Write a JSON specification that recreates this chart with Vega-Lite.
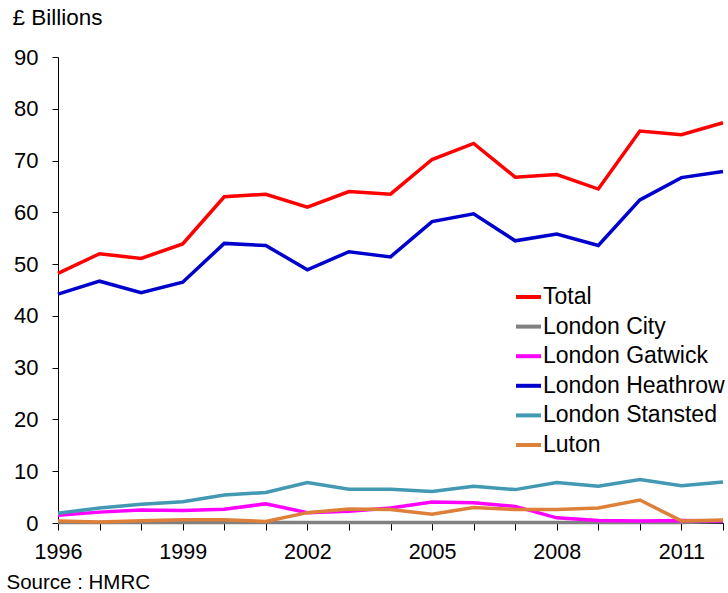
{
  "$schema": "https://vega.github.io/schema/vega-lite/v6.json",
  "width": 665,
  "height": 466,
  "autosize": "none",
  "padding": {"left": 58, "top": 57, "right": 5, "bottom": 70},
  "background": "white",
  "config": {"view": {"stroke": null}, "font": "Liberation Sans"},
  "data": {"values": [
    {"year": 1996, "series": "Total", "value": 48.2},
    {"year": 1997, "series": "Total", "value": 52.0},
    {"year": 1998, "series": "Total", "value": 51.1},
    {"year": 1999, "series": "Total", "value": 53.9},
    {"year": 2000, "series": "Total", "value": 63.0},
    {"year": 2001, "series": "Total", "value": 63.5},
    {"year": 2002, "series": "Total", "value": 61.0},
    {"year": 2003, "series": "Total", "value": 64.0},
    {"year": 2004, "series": "Total", "value": 63.5},
    {"year": 2005, "series": "Total", "value": 70.2},
    {"year": 2006, "series": "Total", "value": 73.3},
    {"year": 2007, "series": "Total", "value": 66.8},
    {"year": 2008, "series": "Total", "value": 67.3},
    {"year": 2009, "series": "Total", "value": 64.5},
    {"year": 2010, "series": "Total", "value": 75.7},
    {"year": 2011, "series": "Total", "value": 75.0},
    {"year": 2012, "series": "Total", "value": 77.3},
    {"year": 1996, "series": "London City", "value": 0.1},
    {"year": 1997, "series": "London City", "value": 0.1},
    {"year": 1998, "series": "London City", "value": 0.1},
    {"year": 1999, "series": "London City", "value": 0.1},
    {"year": 2000, "series": "London City", "value": 0.1},
    {"year": 2001, "series": "London City", "value": 0.1},
    {"year": 2002, "series": "London City", "value": 0.1},
    {"year": 2003, "series": "London City", "value": 0.1},
    {"year": 2004, "series": "London City", "value": 0.1},
    {"year": 2005, "series": "London City", "value": 0.1},
    {"year": 2006, "series": "London City", "value": 0.1},
    {"year": 2007, "series": "London City", "value": 0.1},
    {"year": 2008, "series": "London City", "value": 0.1},
    {"year": 2009, "series": "London City", "value": 0.1},
    {"year": 2010, "series": "London City", "value": 0.1},
    {"year": 2011, "series": "London City", "value": 0.1},
    {"year": 2012, "series": "London City", "value": 0.3},
    {"year": 1996, "series": "London Gatwick", "value": 1.5},
    {"year": 1997, "series": "London Gatwick", "value": 2.1},
    {"year": 1998, "series": "London Gatwick", "value": 2.5},
    {"year": 1999, "series": "London Gatwick", "value": 2.4},
    {"year": 2000, "series": "London Gatwick", "value": 2.65},
    {"year": 2001, "series": "London Gatwick", "value": 3.7},
    {"year": 2002, "series": "London Gatwick", "value": 2.0},
    {"year": 2003, "series": "London Gatwick", "value": 2.25},
    {"year": 2004, "series": "London Gatwick", "value": 2.9},
    {"year": 2005, "series": "London Gatwick", "value": 4.05},
    {"year": 2006, "series": "London Gatwick", "value": 3.9},
    {"year": 2007, "series": "London Gatwick", "value": 3.2},
    {"year": 2008, "series": "London Gatwick", "value": 1.0},
    {"year": 2009, "series": "London Gatwick", "value": 0.5},
    {"year": 2010, "series": "London Gatwick", "value": 0.4},
    {"year": 2011, "series": "London Gatwick", "value": 0.5},
    {"year": 2012, "series": "London Gatwick", "value": 0.4},
    {"year": 1996, "series": "London Heathrow", "value": 44.2},
    {"year": 1997, "series": "London Heathrow", "value": 46.7},
    {"year": 1998, "series": "London Heathrow", "value": 44.5},
    {"year": 1999, "series": "London Heathrow", "value": 46.5},
    {"year": 2000, "series": "London Heathrow", "value": 54.0},
    {"year": 2001, "series": "London Heathrow", "value": 53.6},
    {"year": 2002, "series": "London Heathrow", "value": 48.9},
    {"year": 2003, "series": "London Heathrow", "value": 52.4},
    {"year": 2004, "series": "London Heathrow", "value": 51.4},
    {"year": 2005, "series": "London Heathrow", "value": 58.2},
    {"year": 2006, "series": "London Heathrow", "value": 59.7},
    {"year": 2007, "series": "London Heathrow", "value": 54.5},
    {"year": 2008, "series": "London Heathrow", "value": 55.8},
    {"year": 2009, "series": "London Heathrow", "value": 53.6},
    {"year": 2010, "series": "London Heathrow", "value": 62.4},
    {"year": 2011, "series": "London Heathrow", "value": 66.7},
    {"year": 2012, "series": "London Heathrow", "value": 67.9},
    {"year": 1996, "series": "London Stansted", "value": 1.9},
    {"year": 1997, "series": "London Stansted", "value": 2.9},
    {"year": 1998, "series": "London Stansted", "value": 3.6},
    {"year": 1999, "series": "London Stansted", "value": 4.1},
    {"year": 2000, "series": "London Stansted", "value": 5.4},
    {"year": 2001, "series": "London Stansted", "value": 5.9},
    {"year": 2002, "series": "London Stansted", "value": 7.8},
    {"year": 2003, "series": "London Stansted", "value": 6.5},
    {"year": 2004, "series": "London Stansted", "value": 6.5},
    {"year": 2005, "series": "London Stansted", "value": 6.1},
    {"year": 2006, "series": "London Stansted", "value": 7.1},
    {"year": 2007, "series": "London Stansted", "value": 6.45},
    {"year": 2008, "series": "London Stansted", "value": 7.8},
    {"year": 2009, "series": "London Stansted", "value": 7.1},
    {"year": 2010, "series": "London Stansted", "value": 8.4},
    {"year": 2011, "series": "London Stansted", "value": 7.2},
    {"year": 2012, "series": "London Stansted", "value": 7.9},
    {"year": 1996, "series": "Luton", "value": 0.4},
    {"year": 1997, "series": "Luton", "value": 0.2},
    {"year": 1998, "series": "Luton", "value": 0.45},
    {"year": 1999, "series": "Luton", "value": 0.65},
    {"year": 2000, "series": "Luton", "value": 0.65},
    {"year": 2001, "series": "Luton", "value": 0.3},
    {"year": 2002, "series": "Luton", "value": 2.0},
    {"year": 2003, "series": "Luton", "value": 2.7},
    {"year": 2004, "series": "Luton", "value": 2.6},
    {"year": 2005, "series": "Luton", "value": 1.7},
    {"year": 2006, "series": "Luton", "value": 3.0},
    {"year": 2007, "series": "Luton", "value": 2.6},
    {"year": 2008, "series": "Luton", "value": 2.6},
    {"year": 2009, "series": "Luton", "value": 2.9},
    {"year": 2010, "series": "Luton", "value": 4.45},
    {"year": 2011, "series": "Luton", "value": 0.4},
    {"year": 2012, "series": "Luton", "value": 0.6}
  ]},
  "mark": {"type": "line", "strokeWidth": 3.5},
  "encoding": {
    "x": {
      "field": "year",
      "type": "quantitative",
      "scale": {"domain": [1996, 2012], "nice": false, "zero": false},
      "axis": {
        "values": [1996, 1997, 1998, 1999, 2000, 2001, 2002, 2003, 2004, 2005, 2006, 2007, 2008, 2009, 2010, 2011, 2012],
        "format": "d",
        "labelExpr": "(datum.value - 1996) % 3 == 0 ? datum.label : ''",
        "labelOverlap": false,
        "labelFlush": false,
        "labelFontSize": 21.5,
        "labelColor": "#000000",
        "labelPadding": 11.5,
        "tickColor": "#000000",
        "tickSize": 7,
        "tickWidth": 1,
        "domainColor": "#000000",
        "grid": false,
        "title": "Source : HMRC",
        "titleFontSize": 20.5,
        "titleFontWeight": "normal",
        "titleColor": "#000000",
        "titleAnchor": "start",
        "titleAlign": "left",
        "titleBaseline": "alphabetic",
        "titleX": -52,
        "titleY": 65
      }
    },
    "y": {
      "field": "value",
      "type": "quantitative",
      "scale": {"domain": [0, 90], "nice": false},
      "axis": {
        "values": [0, 10, 20, 30, 40, 50, 60, 70, 80, 90],
        "labelFontSize": 22,
        "labelColor": "#000000",
        "labelPadding": 14,
        "tickSize": 6,
        "tickColor": "#000000",
        "domainColor": "#000000",
        "grid": false,
        "title": "£ Billions",
        "titleAngle": 0,
        "titleFontSize": 22.5,
        "titleFontWeight": "normal",
        "titleColor": "#000000",
        "titleAlign": "left",
        "titleBaseline": "alphabetic",
        "titleX": -46,
        "titleY": -33
      }
    },
    "color": {
      "field": "series",
      "type": "nominal",
      "scale": {
        "domain": ["Total", "London City", "London Gatwick", "London Heathrow", "London Stansted", "Luton"],
        "range": ["#ff0000", "#808080", "#ff00ff", "#0000cc", "#4398b2", "#dd8039"]
      },
      "legend": {
        "orient": "none",
        "legendX": 456,
        "legendY": 225.5,
        "title": null,
        "padding": 0,
        "symbolType": "stroke",
        "symbolSize": 625,
        "symbolStrokeWidth": 4,
        "labelFontSize": 23,
        "labelColor": "#000000",
        "labelOffset": 0,
        "rowPadding": 2.6,
        "labelLimit": 300
      }
    }
  }
}
